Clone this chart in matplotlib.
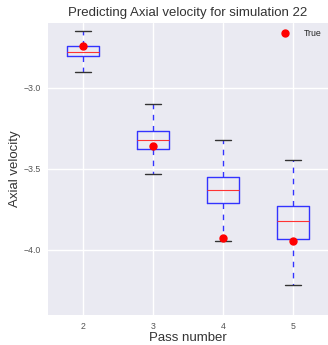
import matplotlib
matplotlib.use("Agg")
import matplotlib.pyplot as plt

# box stats, one entry per pass
passes = [2, 3, 4, 5]
whis_hi = [-2.652, -3.099, -3.325, -3.449]
q3 = [-2.741, -3.265, -3.552, -3.728]
medians = [-2.778, -3.321, -3.630, -3.825]
q1 = [-2.807, -3.377, -3.710, -3.936]
whis_lo = [-2.904, -3.533, -3.944, -4.218]
true_vals = [-2.745, -3.362, -3.930, -3.947]

plt.style.use("seaborn-v0_8-darkgrid")
plt.rcParams['font.family'] = ['Liberation Sans', 'DejaVu Sans']

fig = plt.figure(figsize=(3.28, 3.45), dpi=100)
ax = fig.add_axes([0.146, 0.088, 0.854, 0.846])

stats = []
for i in range(len(passes)):
    stats.append(dict(med=medians[i], q1=q1[i], q3=q3[i],
                      whislo=whis_lo[i], whishi=whis_hi[i], fliers=[]))

pos = list(range(1, len(passes) + 1))
ax.bxp(stats, positions=pos, widths=0.45, showfliers=False,
       boxprops=dict(color='#3333ff', linewidth=1),
       whiskerprops=dict(color='#3333ff', linestyle=(0, (4, 4)), linewidth=1),
       capprops=dict(color='#333333', linewidth=1),
       medianprops=dict(color='#ff3333', linewidth=0.8))

ax.plot(pos, true_vals, 'o', color='red', markersize=5, linestyle='none', label='True')

ax.set_xticks(pos)
ax.set_xticklabels([str(p) for p in passes])
ax.set_xlim(0.5, 4.5)
ax.set_ylim(-4.4, -2.6)
ax.set_yticks([-4.0, -3.5, -3.0])
ax.tick_params(labelsize=6.3, colors='#555555', length=0, pad=5)
ax.grid(True, color='white', linewidth=1)

ax.set_title("Predicting Axial velocity for simulation 22", fontsize=9.5, color='#333333', pad=5)
ax.set_xlabel("Pass number", fontsize=9.5, color='#333333', labelpad=1)
ax.set_ylabel("Axial velocity", fontsize=9.5, color='#333333', labelpad=2)

ax.legend(loc='upper right', fontsize=6.3, frameon=False, numpoints=1,
          handletextpad=1.2, borderaxespad=0.3)

fig.savefig("out.png", dpi=100)
